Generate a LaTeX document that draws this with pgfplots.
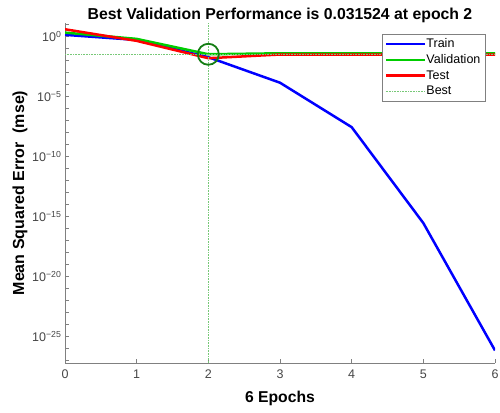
\documentclass[border=0pt]{standalone}
\usepackage{pgfplots}
\pgfplotsset{compat=1.18}
\usepackage{fontspec}
\setmainfont{Liberation Sans}
\definecolor{trainc}{RGB}{0,0,255}
\definecolor{valc}{RGB}{0,205,0}
\definecolor{testc}{RGB}{255,0,0}
\definecolor{bestc}{RGB}{20,125,20}
\definecolor{bestline}{RGB}{120,200,120}
\definecolor{axgray}{RGB}{128,128,128}
\definecolor{tickgray}{RGB}{70,70,70}
% legend swatches: filled bars for the curves, a dotted stroke for the guide
\pgfplotsset{
  barlegend/.style={legend image code/.code={\fill[##1, draw=none] (0pt,-1.25pt) rectangle (39pt,1.25pt);}},
  dotlegend/.style={legend image code/.code={\draw[##1] (0pt,0pt) -- (39pt,0pt);}},
}
\begin{document}
\begin{tikzpicture}
\useasboundingbox (-65pt,-49pt) rectangle (435pt,363pt);
\begin{axis}[
  at={(0,0)}, anchor=south west,
  scale only axis, width=430pt, height=340pt,
  ymode=log,
  xmin=0, xmax=6,
  ymin=6.3e-28, ymax=12.6,
  axis x line=bottom, axis y line=left,
  axis line style={-, axgray, line width=0.8pt},
  tick style={axgray, line width=0.6pt},
  tick align=inside,
  major tick length=4pt, minor tick length=4pt,
  xtick={0,1,2,3,4,5,6},
  ytick={1e-25,1e-20,1e-15,1e-10,1e-5,1},
  yticklabels={10\textsuperscript{−25},10\textsuperscript{−20},10\textsuperscript{−15},10\textsuperscript{−10},10\textsuperscript{−5},10\textsuperscript{0}},
  minor ytick={1e-27,1e-26,1e-24,1e-23,1e-22,1e-21,1e-19,1e-18,1e-17,1e-16,1e-14,1e-13,1e-12,1e-11,1e-9,1e-8,1e-7,1e-6,1e-4,1e-3,1e-2,1e-1,1e1},
  /pgf/number format/assume math mode=true,
  ticklabel style={font=\fontsize{12.5}{14}\selectfont, text=tickgray},
  xticklabel style={yshift=-3pt},
  title={Best Validation Performance is 0.031524 at epoch 2},
  title style={font=\bfseries\fontsize{15.8}{18}\selectfont, yshift=-9pt},
  xlabel={6 Epochs},
  xlabel style={font=\bfseries\fontsize{15.7}{18}\selectfont, yshift=-6pt},
  ylabel={Mean Squared Error\ \ (mse)},
  ylabel style={font=\bfseries\fontsize{16}{18}\selectfont, yshift=-2pt},
  legend style={at={(0.977,0.968)}, anchor=north east, draw=axgray, fill=white,
    font=\fontsize{12.5}{14}\selectfont, row sep=2.5pt, inner sep=3pt,
    nodes={inner sep=1.5pt}},
  legend cell align=left,
]
% Train / Validation / Test performance per epoch
\addplot[trainc, line width=2.5pt, barlegend] coordinates {
  (0,1.3) (1,0.49) (2,0.018) (3,1.35e-4) (4,2.7e-8) (5,2.8e-16) (6,7e-27)};
\addlegendentry{Train}
\addplot[valc, line width=2.5pt, barlegend] coordinates {
  (0,2.0) (1,0.60) (2,0.031524) (3,0.038) (4,0.038) (5,0.038) (6,0.038)};
\addlegendentry{Validation}
\addplot[testc, line width=2.5pt, barlegend] coordinates {
  (0,3.8) (1,0.41) (2,0.0148) (3,0.030) (4,0.030) (5,0.030) (6,0.030)};
\addlegendentry{Test}
% best epoch guide lines
\addplot[bestline, densely dotted, line width=0.6pt, dotlegend]
  coordinates {(0,0.031524) (6,0.031524)};
\addlegendentry{Best}
\addplot[bestline, densely dotted, line width=0.6pt, forget plot] coordinates {(2,6.3e-28) (2,12.6)};
% best validation marker
\addplot[bestc, only marks, mark=o, mark size=10.5pt, mark options={line width=1.8pt}, forget plot] coordinates {(2,0.031524)};
\end{axis}
\end{tikzpicture}
\end{document}
